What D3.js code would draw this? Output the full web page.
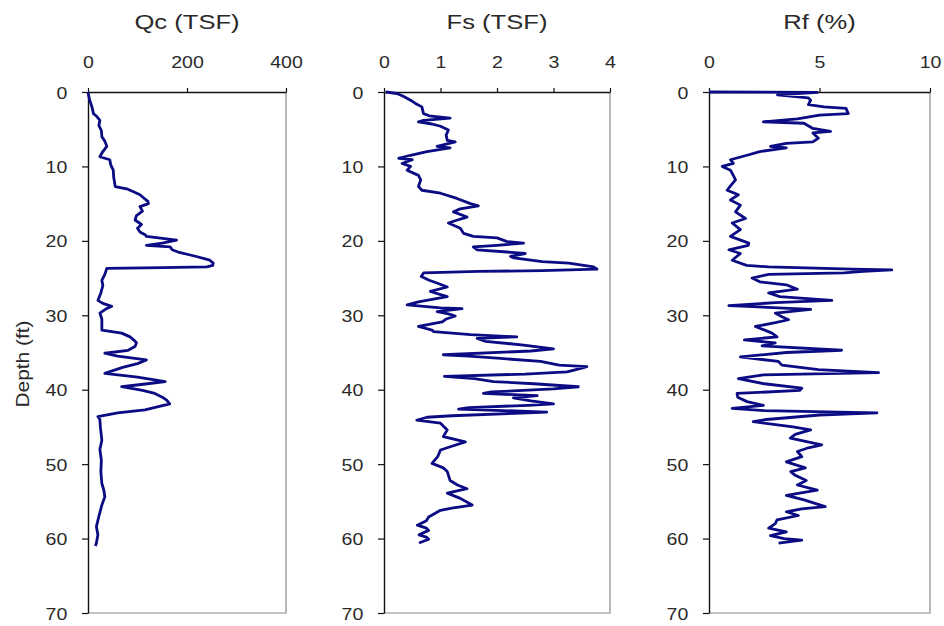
<!DOCTYPE html>
<html>
<head>
<meta charset="utf-8">
<script src="https://cdn.jsdelivr.net/npm/d3@7"></script>
<style>
  body { margin: 0; background: #fff; }
  svg text { font-family: "Liberation Sans", Arial, sans-serif; fill: #2a2a2a; }
</style>
</head>
<body>
<svg id="chart" width="944" height="626"></svg>
<script>
// Tick values and titles
const depthTicks = [0, 10, 20, 30, 40, 50, 60, 70];
const qcTicks = [0, 200, 400];
const fsTicks = [0, 1, 2, 3, 4];
const rfTicks = [0, 5, 10];
const panelTitles = ["Qc (TSF)", "Fs (TSF)", "Rf (%)"];
const depthTitle = "Depth (ft)";

// CPT sounding: [depth ft, value]
const qc = [[0,0],[1,3],[2,8],[2.9,11],[3.3,18],[3.8,24],[4.5,22],[5.2,27],[6,28],[6.6,34],[7.3,38],[8,30],[8.7,24],[9.1,44],[9.8,46],[10.5,51],[11.5,52],[12.7,55],[13,78],[13.4,92],[13.8,105],[14.2,112],[14.7,121],[15,122],[15.4,105],[16,110],[16.6,98],[17.2,95],[17.8,108],[18.3,100],[18.8,105],[19.2,116],[19.4,118],[19.9,179],[20.3,150],[20.6,118],[20.8,166],[21.2,170],[21.5,182],[22.1,219],[22.6,246],[23,253],[23.3,252],[23.5,240],[23.6,150],[23.7,38],[24.5,34],[25.3,28],[26,30],[27,26],[28,20],[28.4,30],[28.8,48],[29.2,35],[29.7,24],[30.5,28],[31.3,28],[32,28],[32.4,68],[32.9,85],[33.3,92],[33.7,98],[34.2,95],[34.7,81],[35.1,34],[35.5,60],[36,118],[36.5,100],[37,70],[37.8,34],[38.3,100],[38.9,156],[39.2,120],[39.6,68],[40.1,110],[40.5,135],[41,150],[41.4,159],[41.9,165],[42.3,140],[42.7,115],[43.1,60],[43.6,20],[44,24],[45,25],[46.8,28],[48,24],[49.5,27],[51,26],[52.6,28],[53.5,32],[54.4,34],[55.5,28],[57,22],[58.4,17],[59.5,20],[60.6,17],[61,15]];

const fs = [[0,0.03],[0.2,0.23],[0.6,0.35],[1.1,0.47],[1.5,0.55],[2,0.67],[2.9,0.7],[3.2,0.8],[3.5,1.17],[3.8,0.7],[4,0.61],[4.3,0.85],[4.6,1.0],[5.1,1.14],[5.8,1.1],[6.5,1.12],[6.7,1.26],[7,1.1],[7.3,0.94],[7.5,1.17],[8,0.76],[8.5,0.47],[8.9,0.26],[9.1,0.5],[9.6,0.32],[10,0.47],[10.5,0.41],[11.2,0.61],[11.8,0.65],[12.7,0.61],[13.2,0.67],[13.6,1.0],[14.3,1.29],[15,1.53],[15.3,1.67],[15.7,1.35],[16.1,1.23],[16.8,1.47],[17.2,1.3],[17.6,1.14],[18.3,1.35],[19,1.41],[19.4,1.58],[19.6,2.0],[20.1,2.18],[20.3,2.47],[20.6,2.0],[20.8,1.58],[21.2,1.65],[21.5,2.18],[21.7,2.5],[22.1,2.24],[22.3,2.3],[22.8,2.8],[23.0,3.27],[23.5,3.71],[23.8,3.77],[24.0,2.8],[24.1,1.67],[24.3,0.7],[24.8,0.66],[25.3,0.8],[25.7,0.95],[26.2,1.12],[26.8,0.82],[27.5,1.12],[27.8,0.9],[28.2,0.61],[28.6,0.41],[29.0,1.0],[29.1,1.38],[29.5,0.94],[29.8,1.14],[30.1,1.26],[30.5,1.1],[30.9,1.03],[31.5,0.61],[32.0,0.85],[32.2,0.88],[32.6,1.53],[32.9,2.35],[33.1,1.65],[33.5,1.8],[34.0,2.47],[34.5,3.0],[34.8,2.6],[35.3,1.05],[35.5,1.5],[35.8,2.06],[36.2,2.77],[36.7,3.1],[36.9,3.59],[37.1,3.5],[37.6,3.24],[37.9,2.5],[38.2,1.07],[38.5,1.6],[38.9,1.94],[39.2,2.65],[39.6,3.44],[39.9,3.0],[40.3,1.9],[40.5,1.76],[40.8,2.71],[41.1,2.29],[41.5,2.6],[41.9,3.0],[42.1,2.55],[42.4,1.5],[42.6,1.32],[43.0,2.88],[43.2,2.2],[43.5,1.2],[43.7,0.76],[44.1,0.58],[44.5,1.0],[45.4,1.12],[46.3,1.05],[47,1.44],[47.6,1.2],[48.1,1.0],[49,0.95],[49.9,0.85],[50.5,1.05],[51,1.12],[52.2,1.17],[52.8,1.3],[53.3,1.47],[53.9,1.12],[54.6,1.35],[55.5,1.56],[55.9,1.2],[56.2,1.0],[57.1,0.79],[57.6,0.75],[58.2,0.59],[58.6,0.75],[58.9,0.79],[59.5,0.62],[59.8,0.75],[60.1,0.79],[60.6,0.62]];

const rf = [[0,0],[0.05,4.9],[0.4,3.1],[0.8,4.5],[1.1,4.6],[1.7,4.5],[2.0,5.2],[2.2,6.2],[2.9,6.3],[3.1,5.0],[3.6,4.0],[4.0,2.46],[4.2,4.3],[4.9,4.7],[5.3,5.5],[5.5,4.7],[6.2,4.95],[6.7,4.7],[6.9,3.5],[7.3,2.78],[7.5,3.5],[8.0,2.3],[8.5,1.72],[9.1,0.97],[9.6,1.1],[10.0,0.6],[10.5,0.97],[11.2,1.1],[11.8,1.2],[12.5,1.0],[13.2,0.82],[13.8,1.33],[14.5,0.97],[15.2,1.42],[16.1,1.2],[17.0,1.65],[17.6,1.05],[18.5,1.42],[19.4,0.97],[20.3,1.8],[20.6,1.78],[21.2,0.9],[21.7,1.42],[22.6,1.05],[23.3,1.7],[23.5,2.7],[23.8,6.5],[23.9,8.27],[24.1,7.0],[24.3,6.1],[24.5,2.7],[25.0,1.95],[25.5,2.3],[25.9,3.5],[26.5,4.0],[27.0,2.7],[27.5,3.2],[28.0,5.56],[28.3,3.0],[28.7,0.9],[29.2,4.6],[29.7,3.0],[30.2,3.3],[30.6,3.6],[31.0,3.0],[31.5,2.1],[32.4,2.85],[32.9,3.08],[33.3,1.6],[33.7,3.0],[34.1,2.4],[34.7,6.0],[35.0,3.5],[35.6,1.42],[36.2,3.14],[36.7,3.3],[37.3,4.95],[37.7,7.67],[38.0,2.46],[38.5,1.33],[39.2,2.5],[39.8,4.2],[40.1,4.1],[40.5,1.27],[41.0,1.3],[41.6,1.72],[42.1,2.46],[42.5,1.05],[42.8,2.5],[43.1,7.6],[43.4,5.0],[44.0,2.6],[44.3,2.0],[45.0,3.8],[45.4,4.6],[46.0,3.9],[46.5,3.68],[47.4,5.1],[47.8,4.5],[48.3,4.0],[49.0,4.2],[49.7,3.5],[50.5,4.36],[51.0,3.7],[51.5,3.9],[52.2,4.4],[52.8,4.0],[53.5,4.9],[54.2,3.5],[54.8,4.3],[55.7,5.26],[56.0,4.2],[56.4,3.5],[56.9,4.04],[57.5,3.08],[58.0,3.0],[58.6,2.7],[59.1,3.5],[59.6,2.78],[60.0,3.4],[60.2,4.2],[60.6,3.15]];

const svg = d3.select("#chart");
const plotTop = 92, plotBottom = 613;
const panels = [
  { data: qc, ticks: qcTicks, left: 88,  right: 286 },
  { data: fs, ticks: fsTicks, left: 384, right: 610 },
  { data: rf, ticks: rfTicks, left: 709, right: 930 }
];

const y = d3.scaleLinear().domain([0, 70]).range([plotTop, plotBottom]);

panels.forEach((p, i) => {
  const x = d3.scaleLinear().domain([p.ticks[0], p.ticks[p.ticks.length - 1]]).range([p.left, p.right]);
  const g = svg.append("g");

  // plot area border (right and bottom)
  g.append("path")
    .attr("d", `M${p.left},${plotBottom}H${p.right}V${plotTop}`)
    .attr("fill", "none").attr("stroke", "#8a8a8a").attr("stroke-width", 1.2);

  // depth axis on the left
  const ya = g.append("g").attr("transform", `translate(${p.left},0)`)
    .call(d3.axisLeft(y).tickValues(depthTicks).tickFormat(d => String(d))
      .tickSize(6).tickSizeOuter(0).tickPadding(12));
  // value axis along the top
  const xa = g.append("g").attr("transform", `translate(0,${plotTop})`)
    .call(d3.axisTop(x).tickValues(p.ticks).tickFormat(d => String(d))
      .tickSize(4).tickSizeOuter(0).tickPadding(20));

  [ya, xa].forEach(a => {
    a.select(".domain").attr("stroke", "#111").attr("stroke-width", 1.4);
    a.selectAll(".tick line").attr("stroke", "#111").attr("stroke-width", 1.2);
    a.selectAll(".tick text").attr("font-size", 17).attr("fill", "#2a2a2a")
      .style("font-family", "'Liberation Sans', Arial, sans-serif");
  });
  ya.selectAll(".tick text").attr("dy", "0.36em").attr("transform", "scale(1.15,1)");
  xa.selectAll(".tick text").attr("dy", "0em").attr("transform", "scale(1.15,1)");

  // title
  g.append("text")
    .attr("transform", `translate(${(p.left + p.right) / 2},29) scale(1.28,1)`)
    .attr("text-anchor", "middle").attr("font-size", 20)
    .text(panelTitles[i]);

  // profile line
  const line = d3.line().x(d => x(d[1])).y(d => y(d[0]));
  g.append("path").datum(p.data)
    .attr("d", line)
    .attr("fill", "none")
    .attr("stroke", "#0b0b84")
    .attr("stroke-width", 2.8)
    .attr("stroke-linejoin", "round");
});

// depth title
svg.append("text")
  .attr("transform", "translate(29,364) rotate(-90) scale(1.1,1)")
  .attr("text-anchor", "middle").attr("font-size", 19)
  .text(depthTitle);
</script>
</body>
</html>
